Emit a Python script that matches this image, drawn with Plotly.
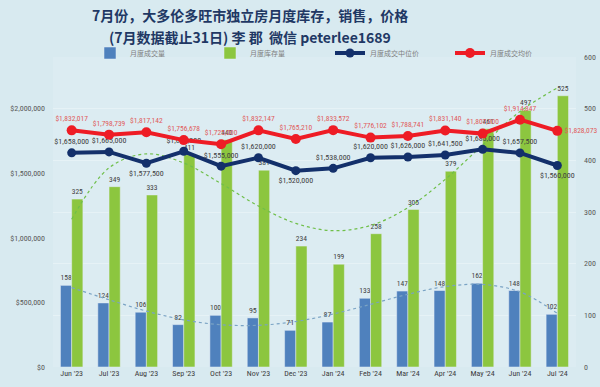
import numpy as np
import plotly.graph_objects as go

months = ["Jun '23", "Jul '23", "Aug '23", "Sep '23", "Oct '23", "Nov '23", "Dec '23",
          "Jan '24", "Feb '24", "Mar '24", "Apr '24", "May '24", "Jun '24", "Jul '24"]
sales = [158, 124, 106, 82, 100, 95, 71, 87, 133, 147, 148, 162, 148, 102]
inventory = [325, 349, 333, 411, 440, 381, 234, 199, 258, 305, 379, 461, 497, 525]
median_price = [1658000, 1665000, 1577500, 1670000, 1555000, 1620000, 1520000,
                1538000, 1620000, 1626000, 1641500, 1685000, 1657500, 1560000]
avg_price = [1832017, 1798739, 1817142, 1756678, 1725000, 1832147, 1765210,
             1833572, 1776102, 1788741, 1831140, 1807000, 1914847, 1828073]

names = ["月度成交量", "月度库存量", "月度成交中位价", "月度成交均价"]

FONT = "Noto Sans CJK SC"
NUM = "Liberation Sans Narrow, Roboto Condensed, Noto Sans CJK SC"
W, H = 600, 387
ML, MR, MT, MB = 53, 24, 57, 20
plot_w = W - ML - MR
plot_h = H - MT - MB

idx = np.arange(1, len(months) + 1)
inv_trend = np.polyval(np.polyfit(idx, inventory, 4), idx)
sales_trend = np.polyval(np.polyfit(idx, sales, 4), idx)

fig = go.Figure()
fig.add_trace(go.Bar(x=months, y=sales, name=names[0], marker_color="#4f81bd",
                     text=[str(v) for v in sales], textposition="outside",
                     textfont=dict(size=8, color="#404040", family=NUM), cliponaxis=False, yaxis="y"))
fig.add_trace(go.Bar(x=months, y=inventory, name=names[1], marker_color="#8cc63f",
                     text=[str(v) for v in inventory], textposition="outside",
                     textfont=dict(size=8, color="#404040", family=NUM), cliponaxis=False, yaxis="y"))
fig.add_trace(go.Scatter(x=months, y=inv_trend, mode="lines",
                         line=dict(color="#6fbf4a", width=1.2, dash="dot", shape="spline"),
                         showlegend=False, hoverinfo="skip", yaxis="y"))
fig.add_trace(go.Scatter(x=months, y=sales_trend, mode="lines",
                         line=dict(color="#7aa3c4", width=1.2, dash="dot", shape="spline"),
                         showlegend=False, hoverinfo="skip", yaxis="y"))

med_pos = ["top center", "top center", "bottom center", "top center", "top center", "top center", "bottom center",
           "top center", "top center", "top center", "top center", "top center", "top center", "bottom center"]
avg_pos = ["top center"] * 13 + ["middle right"]

fig.add_trace(go.Scatter(x=months, y=median_price, name=names[2], mode="lines+markers+text",
                         line=dict(color="#13306b", width=4), marker=dict(size=9, color="#13306b"),
                         text=[f"${v:,.0f}" for v in median_price], textposition=med_pos,
                         textfont=dict(size=8, color="#404040", family=NUM), cliponaxis=False, yaxis="y2"))
fig.add_trace(go.Scatter(x=months, y=avg_price, name=names[3], mode="lines+markers+text",
                         line=dict(color="#ee1c25", width=4), marker=dict(size=10, color="#ee1c25"),
                         text=[f"${v:,.0f}" for v in avg_price], textposition=avg_pos,
                         textfont=dict(size=7.5, color="#e05a5a", family=NUM), cliponaxis=False, yaxis="y2"))

title_x = (250 - ML) / plot_w
fig.update_layout(
    width=W, height=H,
    margin=dict(l=ML, r=MR, t=MT, b=MB, autoexpand=False),
    paper_bgcolor="#d8eaf0", plot_bgcolor="#dcecf2",
    font=dict(family=FONT, size=8, color="#595959"),
    barmode="group", bargap=0.4, bargroupgap=0,
    showlegend=True,
    legend=dict(orientation="h", x=(90 - ML) / plot_w, y=1 + (MT - 53) / plot_h,
                yanchor="middle", xanchor="left",
                font=dict(size=7, color="#7f7f7f"), entrywidth=75, bgcolor="rgba(0,0,0,0)",
                itemwidth=30),
    xaxis=dict(type="category", range=[-0.5, len(months) - 0.5], showgrid=False, ticks="",
               tickfont=dict(size=8, color="#404040", family=NUM), showline=False, automargin=False),
    yaxis=dict(side="right", range=[0, 600], dtick=100, showgrid=True, gridcolor="rgba(255,255,255,0.3)",
               zeroline=False, tickfont=dict(size=8, color="#595959", family=NUM), automargin=False,
               ticklabelstandoff=7),
    yaxis2=dict(side="left", overlaying="y", range=[0, 2400000], dtick=500000, showgrid=False,
                tickformat="$,.0f", zeroline=False, tickfont=dict(size=8, color="#595959", family=NUM),
                automargin=False, ticklabelstandoff=7),
    annotations=[
        dict(text="<b>7月份，大多伦多旺市独立房月度库存，销售，价格</b>", x=title_x, xref="paper",
             xanchor="center", y=1 + (MT - 15) / plot_h, yref="paper", yanchor="middle", showarrow=False,
             font=dict(size=14, color="#1f3864", family=FONT)),
        dict(text="<b>(7月数据截止31日) 李 郡  微信 peterlee1689</b>", x=title_x, xref="paper",
             xanchor="center", y=1 + (MT - 37) / plot_h, yref="paper", yanchor="middle", showarrow=False,
             font=dict(size=14, color="#1f3864", family=FONT)),
    ],
)

fig.write_html("out.html", config={"displayModeBar": False},
               post_script="document.body.style.margin='0';")
